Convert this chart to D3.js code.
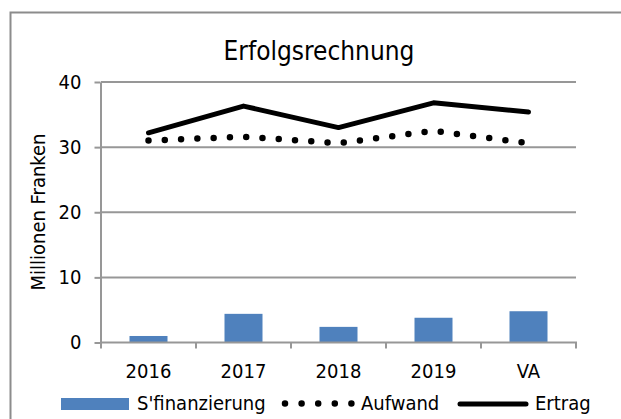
<!DOCTYPE html>
<html><head><meta charset="utf-8">
<script src="https://cdn.jsdelivr.net/npm/d3@7"></script>
<style>
body{margin:0;background:#fff;}
text{font-family:"DejaVu Sans Condensed","DejaVu Sans",sans-serif;font-stretch:condensed;fill:#000;}
</style></head>
<body><svg id="c" width="621" height="419"></svg>
<script>
const categories = ["2016","2017","2018","2019","VA"];
const sfinanzierung = [1.0, 4.4, 2.4, 3.8, 4.8];
const aufwand = [31.0, 31.6, 30.6, 32.5, 30.6];
const ertrag = [32.2, 36.3, 33.0, 36.8, 35.4];
const yTicks = [0, 10, 20, 30, 40];
const title = "Erfolgsrechnung";
const yTitle = "Millionen Franken";
const seriesNames = ["S'finanzierung", "Aufwand", "Ertrag"];

const svg = d3.select("#c");
const barColor = "#4f81bd", gridColor = "#979797";
const fs = 20;

svg.append("rect").attr("x",0).attr("y",0).attr("width",621).attr("height",419).attr("fill","#fff");
svg.append("rect").attr("x",10.5).attr("y",12.5).attr("width",700).attr("height",500)
  .attr("fill","none").attr("stroke","#8c8c8c").attr("stroke-width",2);

svg.append("text").attr("x",319).attr("y",60).attr("text-anchor","middle")
  .style("font-size","26px").text(title);

const x = d3.scaleBand().domain(categories).range([101,576]).paddingInner(0.6).paddingOuter(0.3);
const y = d3.scaleLinear().domain([0,40]).range([342.5,82]);
const cx = c => x(c) + x.bandwidth()/2;

// gridlines
svg.append("g").selectAll("line").data(yTicks.filter(t=>t>0)).join("line")
  .attr("x1",101).attr("x2",576).attr("y1",d=>y(d)).attr("y2",d=>y(d))
  .attr("stroke",gridColor).attr("stroke-width",2);

// y axis
const yAxis = svg.append("g").attr("transform","translate(100.5,0)")
  .call(d3.axisLeft(y).tickValues(yTicks).tickSize(6).tickPadding(13).tickSizeOuter(0));
yAxis.select(".domain").attr("stroke",gridColor).attr("stroke-width",2);
yAxis.selectAll(".tick line").attr("stroke",gridColor).attr("stroke-width",2);
yAxis.selectAll("text").style("font-size",fs+"px").attr("font-family",null).attr("fill","#000");

// bars
svg.append("g").selectAll("rect").data(categories).join("rect")
  .attr("x",d=>x(d)).attr("width",x.bandwidth())
  .attr("y",(d,i)=>y(sfinanzierung[i])).attr("height",(d,i)=>y(0)-y(sfinanzierung[i]))
  .attr("fill",barColor);

// x axis
svg.append("line").attr("x1",100).attr("x2",577).attr("y1",y(0)).attr("y2",y(0))
  .attr("stroke",gridColor).attr("stroke-width",2);
const bounds = categories.map(c=>x(c)-x.step()*x.paddingInner()/2).concat([576]);
bounds[0] = 101;
svg.append("g").selectAll("line").data(bounds).join("line")
  .attr("x1",d=>d).attr("x2",d=>d).attr("y1",y(0)).attr("y2",y(0)+6)
  .attr("stroke",gridColor).attr("stroke-width",2);
svg.append("g").selectAll("text").data(categories).join("text")
  .attr("x",d=>cx(d)).attr("y",378).attr("text-anchor","middle")
  .style("font-size",fs+"px").text(d=>d);

// lines
const line = d3.line().x(d=>cx(d[0])).y(d=>y(d[1]));
svg.append("path").datum(categories.map((c,i)=>[c,aufwand[i]])).attr("d",line)
  .attr("fill","none").attr("stroke","#000").attr("stroke-width",6.5)
  .attr("stroke-linecap","round").attr("stroke-dasharray","0 16.3");
svg.append("path").datum(categories.map((c,i)=>[c,ertrag[i]])).attr("d",line)
  .attr("fill","none").attr("stroke","#000").attr("stroke-width",5)
  .attr("stroke-linecap","round").attr("stroke-linejoin","round");

// y title
svg.append("text").attr("transform","translate(45,212) rotate(-90)")
  .attr("text-anchor","middle").style("font-size",fs+"px").text(yTitle);

// legend
const lg = svg.append("g");
lg.append("rect").attr("x",61).attr("y",398).attr("width",68).attr("height",12).attr("fill",barColor);
lg.append("text").attr("x",137).attr("y",410).style("font-size",fs+"px").text(seriesNames[0]);
lg.append("path").attr("d","M285,403.5L352,403.5").attr("stroke","#000").attr("stroke-width",6.5)
  .attr("stroke-linecap","round").attr("stroke-dasharray","0 16.6");
lg.append("text").attr("x",361).attr("y",410).style("font-size",fs+"px").text(seriesNames[1]);
lg.append("path").attr("d","M460,404L526,404").attr("stroke","#000").attr("stroke-width",5)
  .attr("stroke-linecap","round");
lg.append("text").attr("x",535).attr("y",410).style("font-size",fs+"px").text(seriesNames[2]);
</script></body></html>
